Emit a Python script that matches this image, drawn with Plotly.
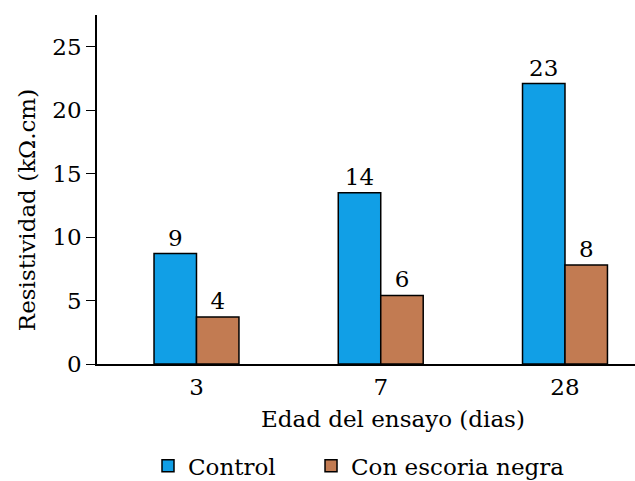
import plotly.graph_objects as go

categories = ["3", "7", "28"]
control = [8.7, 13.5, 22.1]
escoria = [3.7, 5.4, 7.8]
control_labels = ["9", "14", "23"]
escoria_labels = ["4", "6", "8"]
x_title = "Edad del ensayo (dias)"
y_title = "Resistividad (kΩ.cm)"

FONT = "DejaVu Serif"
FS = 23

fig = go.Figure()
fig.add_trace(go.Bar(
    x=categories, y=control, name="Control", legend="legend",
    text=control_labels, textposition="outside", cliponaxis=False,
    marker=dict(color="#119fe6", line=dict(color="black", width=1.5)),
    textfont=dict(family=FONT, size=FS, color="black"),
))
fig.add_trace(go.Bar(
    x=categories, y=escoria, name="Con escoria negra", legend="legend2",
    text=escoria_labels, textposition="outside", cliponaxis=False,
    marker=dict(color="#c27b52", line=dict(color="black", width=1.5)),
    textfont=dict(family=FONT, size=FS, color="black"),
))

fig.add_annotation(text=x_title, xref="paper", yref="paper", x=0.550, y=-0.1576,
                   xanchor="center", yanchor="middle", showarrow=False,
                   font=dict(family=FONT, size=FS, color="black"))
fig.add_annotation(text=y_title, xref="paper", yref="paper", x=-0.130, y=0.441,
                   xanchor="center", yanchor="middle", textangle=-90, showarrow=False,
                   font=dict(family=FONT, size=FS, color="black"))

legend_common = dict(orientation="h", xanchor="left", y=-0.292, yanchor="middle",
                     font=dict(family=FONT, size=FS), itemwidth=30,
                     bgcolor="rgba(0,0,0,0)")

fig.update_layout(
    width=635, height=481,
    margin=dict(l=97, r=0, t=15, b=117, autoexpand=False),
    paper_bgcolor="white", plot_bgcolor="white",
    barmode="group", bargap=0.539, bargroupgap=0,
    font=dict(family=FONT, size=FS, color="black"),
    showlegend=True,
    legend=dict(x=0.0948, **legend_common),
    legend2=dict(x=0.3978, **legend_common),
    xaxis=dict(
        type="category", range=[-0.54, 2.38],
        showline=True, linecolor="black", linewidth=1.5,
        ticks="outside", ticklen=2, tickcolor="rgba(0,0,0,0)",
        showgrid=False, zeroline=False, automargin=False,
        tickfont=dict(family=FONT, size=FS),
    ),
    yaxis=dict(
        range=[0, 27.5], tickvals=[0, 5, 10, 15, 20, 25],
        showline=True, linecolor="black", linewidth=1.5,
        ticks="outside", ticklen=9, tickcolor="black", tickwidth=1,
        showgrid=False, zeroline=False, automargin=False,
        tickfont=dict(family=FONT, size=FS),
    ),
)

fig.write_html("out.html", config={"displayModeBar": False},
               post_script="document.body.style.margin='0';")
